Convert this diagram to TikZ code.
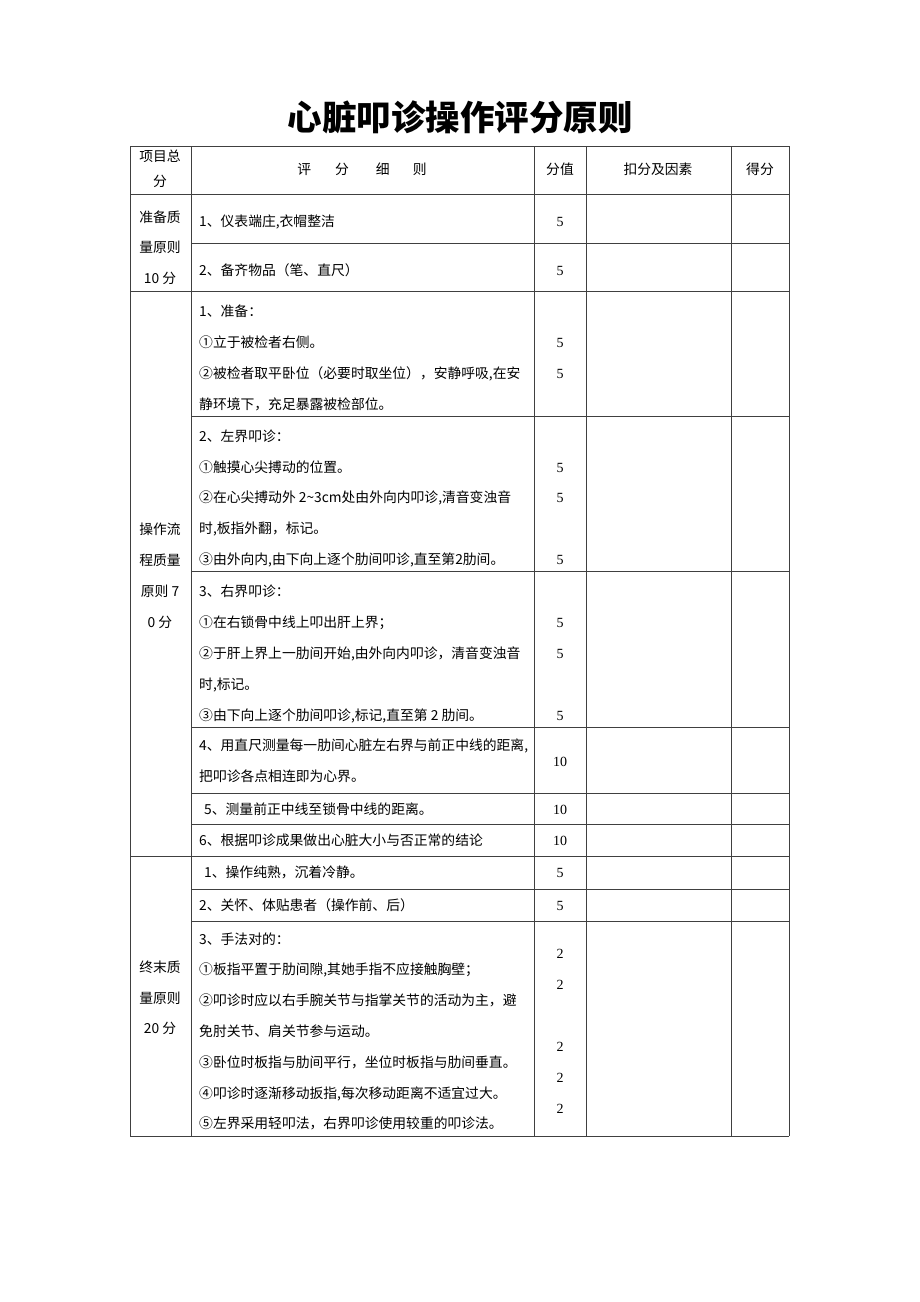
\documentclass[tikz,border=0pt]{standalone}
\usepackage{fontspec}
\setmainfont{Noto Sans CJK SC}
\newfontfamily\numf{Liberation Serif}
\tikzset{
  rule/.style={black!75,line width=0.9pt},
  cell/.style={anchor=west,inner sep=0pt,text height=11pt,text depth=2pt,font=\fontsize{13.8}{16}\selectfont},
  head/.style={cell,anchor=center},
  val/.style={head,font=\fontsize{14}{16}\selectfont\numf},
}
\begin{document}
\begin{tikzpicture}[x=1pt,y=-1pt]
\useasboundingbox (0,0) rectangle (920,1302);
\node[font=\fontsize{34.5}{40}\selectfont\bfseries] (title) at (460,117) {心脏叩诊操作评分原则};
% grid of the table
\foreach \x in {130,191,534,586,731,789}
  \draw[rule] (\x,146) -- (\x,1136);
\foreach \y in {146,194,291,856,1136}
  \draw[rule] (130,\y) -- (789,\y);
\foreach \y in {243,416,571,727,793,824,889,921}
  \draw[rule] (191,\y) -- (789,\y);
% header
\node[head] (h1a) at (160,157) {项目总};
\node[head] (h1b) at (160,182) {分};
\node[head] (h2) at (362,170) {评\hspace{24pt}分\hspace{27pt}细\hspace{23pt}则};
\node[head] (h3) at (560,170) {分值};
\node[head] (h4) at (658,170) {扣分及因素};
\node[head] (h5) at (760,170) {得分};
% first column
\foreach \y/\t in {218/准备质,248/量原则,279/10 分,530/操作流,561/程质量,592/原则 7,623/0 分,968/终末质,999/量原则,1029/20 分}
  \node[head] (k\y) at (160,\y) {\t};
% items
\foreach \y/\t in {222/{1、仪表端庄,衣帽整洁},271/{2、备齐物品（笔、直尺）},
  312/{1、准备：},343/{①立于被检者右侧。},374/{②被检者取平卧位（必要时取坐位），安静呼吸,在安},405/{静环境下，充足暴露被检部位。},
  437/{2、左界叩诊：},468/{①触摸心尖搏动的位置。},498/{②在心尖搏动外 2\textasciitilde3cm处由外向内叩诊,清音变浊音},529/{时,板指外翻，标记。},560/{③由外向内,由下向上逐个肋间叩诊,直至第2肋间。},
  592/{3、右界叩诊：},623/{①在右锁骨中线上叩出肝上界；},654/{②于肝上界上一肋间开始,由外向内叩诊，清音变浊音},685/{时,标记。},716/{③由下向上逐个肋间叩诊,标记,直至第 2 肋间。},
  746/{4、用直尺测量每一肋间心脏左右界与前正中线的距离,},777/{把叩诊各点相连即为心界。},841/{6、根据叩诊成果做出心脏大小与否正常的结论},
  906/{2、关怀、体贴患者（操作前、后）},940/{3、手法对的：},970/{①板指平置于肋间隙,其她手指不应接触胸壁；},1001/{②叩诊时应以右手腕关节与指掌关节的活动为主，避},1032/{免肘关节、肩关节参与运动。},
  1063/{③卧位时板指与肋间平行，坐位时板指与肋间垂直。},1094/{④叩诊时逐渐移动扳指,每次移动距离不适宜过大。},1124/{⑤左界采用轻叩法，右界叩诊使用较重的叩诊法。}}
  \node[cell] (d\y) at (199,\y) {\t};
\node[cell] (d810) at (204,810) {5、测量前正中线至锁骨中线的距离。};
\node[cell] (d873) at (204,873) {1、操作纯熟，沉着冷静。};
% scores
\foreach \y/\v in {222/5,271/5,343/5,374/5,468/5,498/5,560/5,623/5,654/5,716/5,762/10,810/10,841/10,873/5,906/5,954/2,985/2,1047/2,1078/2,1109/2}
  \node[val] (v\y) at (560,\y) {\v};
\end{tikzpicture}
\end{document}
